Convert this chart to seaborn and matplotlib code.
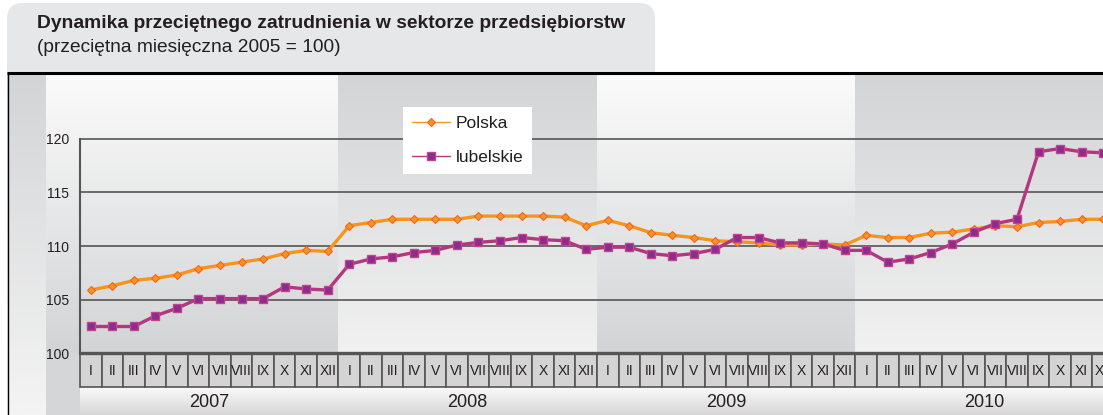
import numpy as np
import pandas as pd
import matplotlib
matplotlib.use("Agg")
import matplotlib.pyplot as plt
import seaborn as sns
from matplotlib.patches import FancyBboxPatch, Rectangle
from matplotlib.colors import LinearSegmentedColormap

# ---------------- data ----------------
years = ["2007", "2008", "2009", "2010"]
months = ["I", "II", "III", "IV", "V", "VI", "VII", "VIII", "IX", "X", "XI", "XII"]
polska = [105.9, 106.3, 106.8, 107.0, 107.3, 107.9, 108.2, 108.5, 108.8, 109.3, 109.6, 109.5,
          111.9, 112.2, 112.5, 112.5, 112.5, 112.5, 112.8, 112.8, 112.8, 112.8, 112.7, 111.9,
          112.4, 111.9, 111.25, 111.0, 110.8, 110.5, 110.4, 110.3, 110.1, 110.1, 110.2, 110.1,
          111.0, 110.8, 110.8, 111.2, 111.3, 111.6, 111.9, 111.8, 112.2, 112.3, 112.5, 112.5]
lubelskie = [102.5, 102.5, 102.5, 103.5, 104.2, 105.1, 105.1, 105.1, 105.1, 106.2, 106.0, 105.9,
             108.3, 108.8, 109.0, 109.4, 109.6, 110.1, 110.35, 110.5, 110.8, 110.6, 110.5, 109.7,
             109.9, 109.9, 109.3, 109.1, 109.3, 109.7, 110.8, 110.8, 110.3, 110.3, 110.2, 109.6,
             109.6, 108.5, 108.8, 109.4, 110.2, 111.3, 112.1, 112.5, 118.8, 119.1, 118.8, 118.7]
yticks = [100, 105, 110, 115, 120]
series_names = ["Polska", "lubelskie"]
title = "Dynamika przeciętnego zatrudnienia w sektorze przedsiębiorstw"
subtitle = "(przeciętna miesięczna 2005 = 100)"

# ---------------- style ----------------
sns.set_style("white")
plt.rcParams["font.family"] = ["Liberation Sans", "DejaVu Sans"]
TXT = "#231f20"
ORANGE = "#f7941d"
ORANGE_EDGE = "#f26522"
PURPLE_LINE = "#b3377f"
PURPLE_FILL = "#8e2b8e"
GRID = "#555555"

W, H = 1103, 415
X0 = 80          # px, left of month axis
MW = 21.54       # px per month
NM = len(years) * len(months)
Y100 = 353.3     # px of value 100
PXU = 10.72      # px per unit
YTOP = 73
BOX_BOT = 387

n = len(polska)
idx = np.arange(n)
df = pd.DataFrame({"idx": np.concatenate([idx, idx]),
                   "value": polska + lubelskie,
                   "series": [series_names[0]] * n + [series_names[1]] * n})

fig = plt.figure(figsize=(W / 100, H / 100), dpi=100)

# background axes in pixel coordinates
bg = fig.add_axes([0, 0, 1, 1], zorder=-5)
bg.set_xlim(0, W)
bg.set_ylim(H, 0)
bg.axis("off")
bg.add_patch(FancyBboxPatch((7, 3), 648, 100, boxstyle="round,pad=0,rounding_size=16",
                            fc="#e6e7e8", ec="none"))

def vgrad(c_top, c_bot, nsteps=256):
    cm = LinearSegmentedColormap.from_list("g", [c_top, c_bot])
    return cm, np.linspace(0, 1, nsteps).reshape(-1, 1)

cm, g = vgrad("#d3d4d6", "#f4f4f4")
bg.imshow(g, cmap=cm, extent=(7, 46, H, YTOP), aspect="auto", origin="upper", zorder=1)
cm, g = vgrad("#fbfbfb", "#d3d4d6")
bg.imshow(g, cmap=cm, extent=(46, X0 + 1, Y100, YTOP), aspect="auto", origin="upper", zorder=1)
bg.add_patch(Rectangle((46, Y100), X0 + 1 - 46, H - Y100, fc="#d5d6d8", ec="none", zorder=1))

# ---------------- main plot ----------------
ax = fig.add_axes([X0 / W, (H - Y100) / H, NM * MW / W, (Y100 - YTOP) / H])
ytop_val = 100 + (Y100 - YTOP) / PXU

for k in range(len(years)):
    if k % 2 == 0:
        cm, g = vgrad("#fbfbfb", "#d3d4d6")
    else:
        cm, g = vgrad("#d3d4d6", "#f1f1f1")
    ax.imshow(g, cmap=cm, extent=(k * 12 - 0.5, k * 12 + 11.5, 100, ytop_val),
              aspect="auto", origin="upper", zorder=0)

for v in yticks[1:]:
    ax.axhline(v, color=GRID, lw=1.2, zorder=1)

sns.lineplot(data=df[df.series == series_names[0]], x="idx", y="value", ax=ax,
             color=ORANGE, lw=2.4, marker="D", markersize=4.2,
             markerfacecolor=ORANGE, markeredgecolor=ORANGE_EDGE, markeredgewidth=0.8,
             label=series_names[0], zorder=3)
sns.lineplot(data=df[df.series == series_names[1]], x="idx", y="value", ax=ax,
             color=PURPLE_LINE, lw=2.4, marker="s", markersize=5.6,
             markerfacecolor=PURPLE_FILL, markeredgecolor="#c0458a", markeredgewidth=1.0,
             label=series_names[1], zorder=4)

ax.set_xlim(-0.5, NM - 0.5)
ax.set_ylim(100, ytop_val)
ax.set_xlabel("")
ax.set_ylabel("")
ax.set_xticks([])
ax.set_yticks(yticks)
ax.tick_params(axis="y", length=0, pad=8, labelsize=10, labelcolor=TXT)
for s in ["top", "right", "bottom"]:
    ax.spines[s].set_visible(False)
ax.spines["left"].set_bounds(100, 120)
ax.spines["left"].set_color(GRID)
ax.spines["left"].set_linewidth(1.5)

leg = ax.legend(loc="upper left", bbox_to_anchor=(403 / W, 1 - 107 / H),
                bbox_transform=fig.transFigure, frameon=True, fancybox=False,
                edgecolor="none", facecolor="white", framealpha=1, fontsize=12.5,
                handlelength=2.2, labelspacing=1.1, borderpad=0.5, handletextpad=0.35,
                borderaxespad=0)
for line in leg.get_lines():
    line.set_linewidth(1.0)
for t in leg.get_texts():
    t.set_color(TXT)

# ---------------- month boxes ----------------
axb = fig.add_axes([X0 / W, (H - BOX_BOT) / H, NM * MW / W, (BOX_BOT - Y100) / H])
axb.set_xlim(-0.5, NM - 0.5)
axb.set_ylim(0, 1)
axb.bar(idx, np.ones(n), width=1.0, color="#d4d4d4", edgecolor=GRID, linewidth=1.2,
        clip_on=False)
axb.axhline(1, color=GRID, lw=2.4, clip_on=False)
for i in idx:
    axb.text(i, 0.47, months[i % 12], ha="center", va="center", fontsize=10, color=TXT)
axb.axis("off")

# ---------------- year row ----------------
axy = fig.add_axes([X0 / W, 0, NM * MW / W, (H - BOX_BOT) / H], zorder=-1)
axy.set_xlim(-0.5, NM - 0.5)
axy.set_ylim(0, 1)
cm, g = vgrad("#fbfbfb", "#d6d6d6")
axy.imshow(g, cmap=cm, extent=(-0.5, NM - 0.5, 0, 1), aspect="auto", origin="upper")
for k, yr in enumerate(years):
    axy.text(k * 12 + 5.5, 0.45, yr, ha="center", va="center", fontsize=13, color=TXT)
axy.axis("off")

# ---------------- overlay frame + titles ----------------
ov = fig.add_axes([0, 0, 1, 1], zorder=10)
ov.set_xlim(0, W)
ov.set_ylim(H, 0)
ov.axis("off")
ov.plot([7, W], [YTOP, YTOP], color="black", lw=2.2, solid_capstyle="butt")
ov.plot([7.5, 7.5], [YTOP, H], color="black", lw=1.0)

fig.text(37 / W, 1 - 23 / H, title, fontsize=13.9, fontweight="bold", color=TXT, va="center")
fig.text(37 / W, 1 - 47 / H, subtitle, fontsize=13.8, color=TXT, va="center")

fig.savefig("out.png", dpi=100)
